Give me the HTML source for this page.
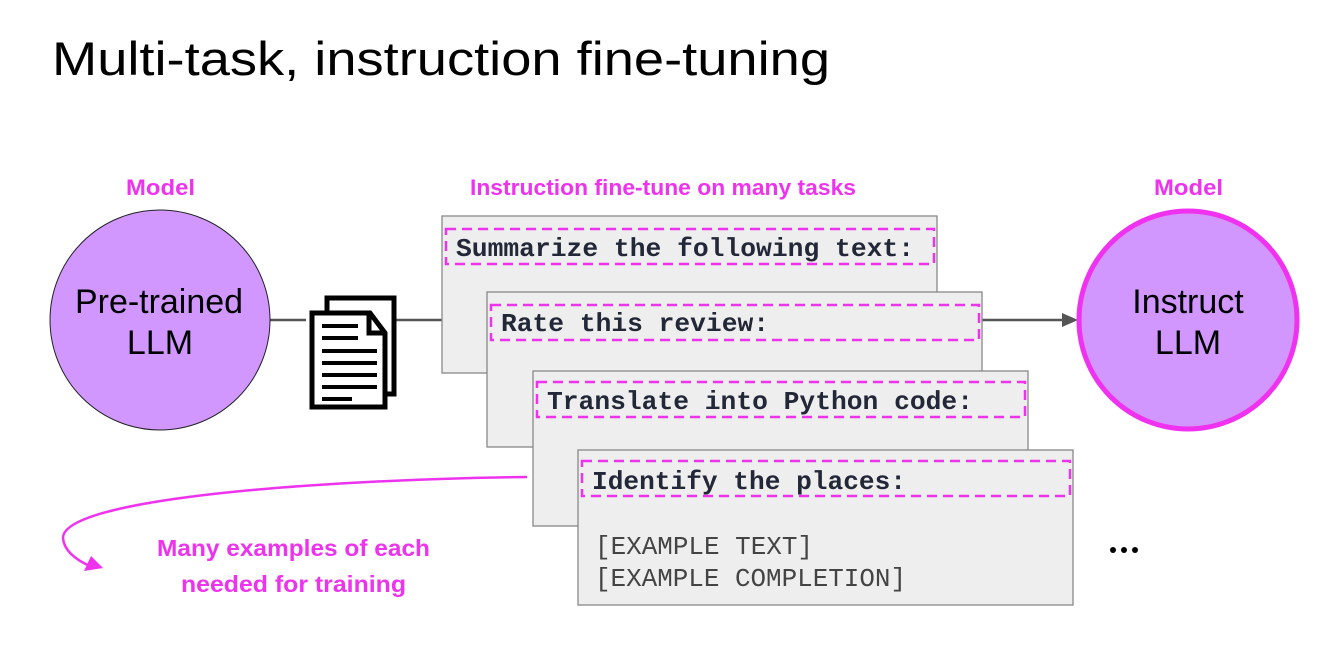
<!DOCTYPE html>
<html><head><meta charset="utf-8"><style>
html,body{margin:0;padding:0;background:#fff;width:1344px;height:670px;overflow:hidden}
svg{display:block}
.mono{font-family:"Liberation Mono",monospace;font-size:26px;fill:#232838}
.mag{font-family:"Liberation Sans",sans-serif;font-weight:bold;fill:#ee33ee}
.circ{font-family:"Liberation Sans",sans-serif;font-size:34px;fill:#000}
</style></head><body>
<svg width="1344" height="670" viewBox="0 0 1344 670" xmlns="http://www.w3.org/2000/svg">
<text x="52" y="75" font-family="Liberation Sans,sans-serif" font-size="47" textLength="778" lengthAdjust="spacingAndGlyphs">Multi-task, instruction fine-tuning</text>

<text class="mag" x="126" y="195" font-size="22" textLength="69" lengthAdjust="spacingAndGlyphs">Model</text>
<text class="mag" x="470" y="195" font-size="22" textLength="386" lengthAdjust="spacingAndGlyphs">Instruction fine-tune on many tasks</text>
<text class="mag" x="1154" y="195" font-size="22" textLength="69" lengthAdjust="spacingAndGlyphs">Model</text>

<!-- connectors -->
<line x1="270" y1="320" x2="306" y2="320" stroke="#555" stroke-width="2.5"/>
<line x1="395" y1="320" x2="443" y2="320" stroke="#555" stroke-width="2.5"/>
<line x1="982" y1="320" x2="1065" y2="320" stroke="#555" stroke-width="2.5"/>
<polygon points="1062,313 1078,320 1062,327" fill="#555"/>

<!-- left circle -->
<circle cx="160" cy="320" r="110" fill="#d197ff" stroke="#222" stroke-width="1"/>
<text class="circ" x="75" y="313" textLength="168" lengthAdjust="spacingAndGlyphs">Pre-trained</text>
<text class="circ" x="160" y="354" text-anchor="middle">LLM</text>

<!-- right circle -->
<circle cx="1188" cy="320" r="109" fill="#d197ff" stroke="#f032f0" stroke-width="5"/>
<text class="circ" x="1188" y="313" text-anchor="middle">Instruct</text>
<text class="circ" x="1188" y="354" text-anchor="middle">LLM</text>

<!-- doc icon -->
<g stroke="#000" stroke-width="5" fill="#fff">
<rect x="327" y="298" width="67" height="96"/>
<path d="M312,313 L370,313 L385,333 L385,407 L312,407 Z"/>
<path d="M369,313 L369,333 L385,333" fill="none"/>
</g>
<g stroke="#000" stroke-width="4">
<line x1="322" y1="326" x2="358" y2="326"/>
<line x1="322" y1="338" x2="358" y2="338"/>
<line x1="322" y1="351" x2="377" y2="351"/>
<line x1="322" y1="363" x2="377" y2="363"/>
<line x1="322" y1="375" x2="377" y2="375"/>
<line x1="322" y1="387" x2="377" y2="387"/>
<line x1="322" y1="399" x2="352" y2="399"/>
</g>

<!-- boxes -->
<g fill="#eeeeee" stroke="#888" stroke-width="1.3">
<rect x="442" y="216" width="495" height="157"/>
<rect x="487" y="292" width="495" height="155"/>
<rect x="533" y="371" width="495" height="155"/>
<rect x="578" y="450" width="495" height="155"/>
</g>
<g fill="none" stroke="#ee33ee" stroke-width="2.5" stroke-dasharray="10,6">
<rect x="446" y="229" width="488" height="35"/>
<rect x="491" y="305" width="488" height="35"/>
<rect x="537" y="382" width="488" height="35"/>
<rect x="582" y="461" width="488" height="35"/>
</g>
<text class="mono" font-weight="bold" x="456" y="256" textLength="458" lengthAdjust="spacingAndGlyphs">Summarize the following text:</text>
<text class="mono" font-weight="bold" x="501" y="331" textLength="268" lengthAdjust="spacingAndGlyphs">Rate this review:</text>
<text class="mono" font-weight="bold" x="547" y="409" textLength="426" lengthAdjust="spacingAndGlyphs">Translate into Python code:</text>
<text class="mono" font-weight="bold" x="592" y="489" textLength="314" lengthAdjust="spacingAndGlyphs">Identify the places:</text>
<text class="mono" x="595" y="554" style="fill:#444" textLength="218" lengthAdjust="spacingAndGlyphs">[EXAMPLE TEXT]</text>
<text class="mono" x="595" y="586" style="fill:#444" textLength="311" lengthAdjust="spacingAndGlyphs">[EXAMPLE COMPLETION]</text>

<circle cx="1113" cy="550" r="3" fill="#000"/>
<circle cx="1124" cy="550" r="3" fill="#000"/>
<circle cx="1135" cy="550" r="3" fill="#000"/>

<!-- curve -->
<path d="M527,477 C 300,480 63,500 63,538 C 64,552 78,561 92,567" fill="none" stroke="#ee33ee" stroke-width="2.5"/>
<polygon points="103,568 84,571 91,556" fill="#ee33ee"/>
<text class="mag" x="157" y="556" font-size="23" textLength="273" lengthAdjust="spacingAndGlyphs">Many examples of each</text>
<text class="mag" x="181" y="592" font-size="23" textLength="225" lengthAdjust="spacingAndGlyphs">needed for training</text>
</svg>
</body></html>
